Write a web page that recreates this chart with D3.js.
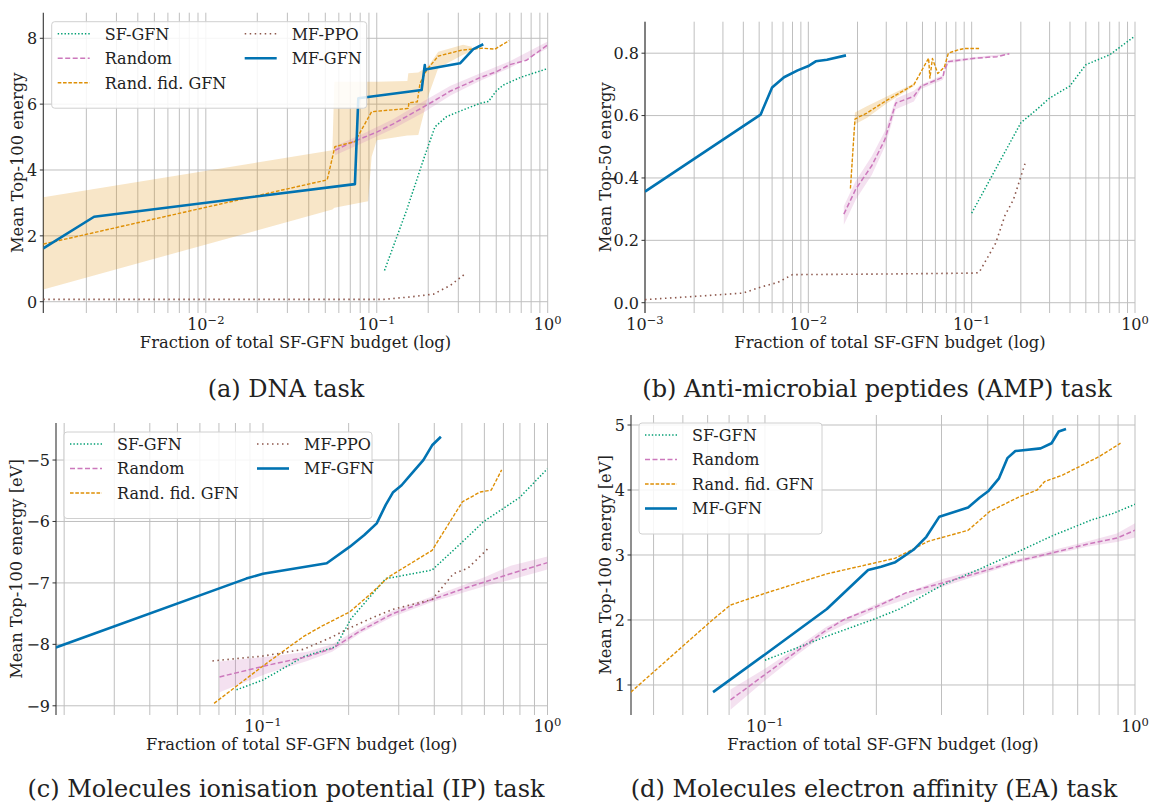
<!DOCTYPE html>
<html>
<head>
<meta charset="utf-8">
<script src="https://cdn.jsdelivr.net/npm/d3@7"></script>
<style>
  html, body { margin: 0; padding: 0; background: #fff; }
  svg text { font-family: "DejaVu Serif", serif; fill: #222; }
</style>
</head>
<body>
<script>
// series names + colours (seaborn colorblind-ish)
var seriesNames = ["SF-GFN", "Random", "Rand. fid. GFN", "MF-PPO", "MF-GFN"];
var seriesColors = ["#029e73", "#cc78bc", "#de8f05", "#8c564b", "#0173b2"];

// ---- (a) DNA task : [fraction, energy]
var dnaSF = [[0.111,0.95],[0.15,2.8],[0.19,4.4],[0.219,5.31],[0.256,5.62],[0.311,5.8],[0.4,6.02],[0.45,6.08],[0.5,6.4],[0.55,6.58],[0.7,6.82],[1.0,7.08]];
var dnaRandom = [[0.057,4.6],[0.07,4.82],[0.085,5.0],[0.1,5.15],[0.125,5.4],[0.15,5.63],[0.19,5.93],[0.23,6.18],[0.27,6.4],[0.33,6.6],[0.4,6.8],[0.5,6.98],[0.6,7.2],[0.75,7.33],[1.0,7.8]];
var dnaRandomBand = [[0.057,4.45,4.72],[0.085,4.85,5.12],[0.125,5.25,5.55],[0.19,5.76,6.1],[0.27,6.26,6.56],[0.4,6.7,6.93],[0.6,7.1,7.3],[1.0,7.7,7.9]];
var dnaRandFid = [[0.00112,1.75],[0.0513,3.70],[0.0569,4.71],[0.0745,4.86],[0.0933,5.77],[0.153,5.87],[0.154,6.04],[0.1726,6.07],[0.179,6.63],[0.196,7.04],[0.229,7.46],[0.314,7.64],[0.36,7.67],[0.415,7.70],[0.491,7.67],[0.595,7.93]];
var dnaRandFidBand = [[0.00112,0.37,3.17],[0.055,2.8,4.6],[0.0565,2.85,6.68],[0.089,3.05,6.68],[0.0933,4.4,6.68],[0.1,4.9,6.68],[0.151,5.05,6.7],[0.153,5.05,6.94],[0.175,5.06,6.96],[0.2,6.25,7.15],[0.229,7.1,7.59],[0.32,7.5,7.8],[0.36,7.6,7.74]];
var dnaPPO = [[0.00112,0.07],[0.11,0.07],[0.16,0.15],[0.215,0.23],[0.27,0.5],[0.335,0.88]];
var dnaMF = [[0.00112,1.62],[0.00222,2.58],[0.0745,3.57],[0.078,6.18],[0.183,6.43],[0.191,7.19],[0.192,7.02],[0.196,7.06],[0.307,7.24],[0.367,7.67],[0.42,7.82]];

// ---- (b) AMP task
var ampSF = [[0.1,0.287],[0.2,0.577],[0.251,0.62],[0.30,0.656],[0.398,0.694],[0.50,0.763],[0.70,0.795],[1.0,0.855]];
var ampRandom = [[0.0165,0.284],[0.0195,0.364],[0.0245,0.44],[0.0294,0.523],[0.0343,0.64],[0.0443,0.662],[0.049,0.694],[0.0667,0.723],[0.068,0.747],[0.072,0.773],[0.105,0.784],[0.143,0.789],[0.17,0.798]];
var ampRandomBand = [[0.0165,0.25,0.31],[0.0195,0.33,0.39],[0.0245,0.41,0.47],[0.0294,0.50,0.55],[0.0343,0.62,0.655],[0.0443,0.645,0.68],[0.049,0.685,0.70],[0.0667,0.715,0.73],[0.072,0.768,0.778],[0.17,0.796,0.80]];
var ampRandFid = [[0.0181,0.366],[0.0193,0.589],[0.0228,0.608],[0.03,0.648],[0.0443,0.699],[0.052,0.765],[0.0545,0.784],[0.0555,0.72],[0.0575,0.783],[0.062,0.735],[0.068,0.755],[0.072,0.80],[0.0817,0.81],[0.09,0.815],[0.111,0.815]];
var ampRandFidBand = [[0.0181,0.35,0.38],[0.0193,0.572,0.61],[0.0228,0.592,0.63],[0.03,0.638,0.66],[0.0443,0.695,0.703]];
var ampPPO = [[0.001,0.01],[0.002,0.02],[0.004,0.031],[0.0051,0.05],[0.0065,0.065],[0.008,0.09],[0.03,0.092],[0.105,0.095],[0.111,0.097],[0.14,0.19],[0.16,0.28],[0.18,0.33],[0.214,0.452]];
var ampMF = [[0.001,0.356],[0.0051,0.603],[0.006,0.69],[0.0071,0.723],[0.0086,0.745],[0.0101,0.76],[0.0111,0.774],[0.013,0.779],[0.017,0.793]];

// ---- (c) IP task
var ipSF = [[0.0807,-8.74],[0.1,-8.58],[0.139,-8.2],[0.18,-8.04],[0.204,-7.58],[0.27,-6.93],[0.294,-6.9],[0.393,-6.79],[0.495,-6.36],[0.597,-6.0],[0.798,-5.61],[1.0,-5.14]];
var ipRandom = [[0.0703,-8.53],[0.1038,-8.34],[0.143,-8.2],[0.175,-8.07],[0.22,-7.78],[0.286,-7.5],[0.393,-7.27],[0.51,-7.09],[0.606,-6.98],[0.742,-6.85],[1.0,-6.67]];
var ipRandomBand = [[0.0703,-8.78,-8.28],[0.1038,-8.47,-8.2],[0.143,-8.27,-8.12],[0.175,-8.12,-8.0],[0.22,-7.82,-7.73],[0.286,-7.55,-7.45],[0.393,-7.31,-7.22],[0.51,-7.15,-7.03],[0.606,-7.05,-6.9],[0.742,-6.95,-6.72],[1.0,-6.78,-6.57]];
var ipRandFid = [[0.0673,-8.96],[0.0994,-8.36],[0.139,-7.87],[0.16,-7.71],[0.202,-7.47],[0.24,-7.17],[0.277,-6.9],[0.393,-6.47],[0.502,-5.68],[0.58,-5.52],[0.634,-5.49],[0.69,-5.16]];
var ipPPO = [[0.0664,-8.27],[0.1,-8.19],[0.139,-8.08],[0.175,-7.88],[0.2,-7.74],[0.247,-7.55],[0.286,-7.43],[0.393,-7.27],[0.467,-6.85],[0.525,-6.76],[0.615,-6.45]];
var ipMF = [[0.0187,-8.05],[0.0873,-6.93],[0.1,-6.85],[0.1675,-6.68],[0.202,-6.41],[0.227,-6.22],[0.251,-6.03],[0.27,-5.73],[0.286,-5.53],[0.307,-5.41],[0.33,-5.24],[0.366,-5.0],[0.393,-4.76],[0.422,-4.62]];

// ---- (d) EA task
var eaSF = [[0.1,1.38],[0.147,1.75],[0.201,2.03],[0.231,2.17],[0.302,2.54],[0.379,2.78],[0.475,3.03],[0.595,3.29],[0.763,3.54],[0.873,3.64],[1.0,3.78]];
var eaRandom = [[0.0807,0.77],[0.1,1.16],[0.122,1.52],[0.147,1.85],[0.164,2.01],[0.201,2.21],[0.241,2.42],[0.302,2.57],[0.379,2.73],[0.475,2.9],[0.595,3.03],[0.746,3.17],[0.893,3.26],[1.0,3.38]];
var eaRandomBand = [[0.0807,0.62,0.93],[0.1,1.07,1.25],[0.122,1.46,1.58],[0.147,1.80,1.90],[0.201,2.17,2.25],[0.302,2.51,2.63],[0.475,2.87,2.93],[0.746,3.13,3.21],[0.893,3.2,3.33],[1.0,3.27,3.49]];
var eaRandFid = [[0.0434,0.89],[0.0721,2.0],[0.0807,2.23],[0.1,2.41],[0.147,2.71],[0.225,2.95],[0.276,3.21],[0.354,3.38],[0.405,3.67],[0.485,3.89],[0.544,4.0],[0.57,4.13],[0.637,4.23],[0.798,4.51],[0.914,4.72]];
var eaMF = [[0.0724,0.89],[0.1,1.47],[0.147,2.17],[0.19,2.77],[0.206,2.82],[0.225,2.89],[0.252,3.08],[0.273,3.28],[0.296,3.59],[0.354,3.73],[0.38,3.88],[0.401,3.98],[0.429,4.18],[0.452,4.49],[0.475,4.6],[0.556,4.64],[0.595,4.72],[0.622,4.9],[0.651,4.94]];

// axis ticks / labels
var dnaYTicks = [0, 2, 4, 6, 8];
var ampYTicks = [0, 0.2, 0.4, 0.6, 0.8];
var ipYTicks = [-9, -8, -7, -6, -5];
var eaYTicks = [1, 2, 3, 4, 5];
var xLabel = "Fraction of total SF-GFN budget (log)";
var yLabels = ["Mean Top-100 energy", "Mean Top-50 energy", "Mean Top-100 energy [eV]", "Mean Top-100 energy [eV]"];
var captions = ["(a) DNA task", "(b) Anti-microbial peptides (AMP) task", "(c) Molecules ionisation potential (IP) task", "(d) Molecules electron affinity (EA) task"];

var styles = {
  "SF-GFN":        {w: 1.5, dash: "1.4,2"},
  "Random":        {w: 1.5, dash: "5,2.5"},
  "Rand. fid. GFN":{w: 1.4, dash: "3.6,1.7"},
  "MF-PPO":        {w: 1.6, dash: "1.5,3.5"},
  "MF-GFN":        {w: 2.6, dash: null}
};
var color = d3.scaleOrdinal().domain(seriesNames).range(seriesColors);

var svg = d3.select("body").append("svg").attr("width", 1149).attr("height", 803);

var panels = [
  {id: "a", box: {l: 43.3, r: 547.7, t: 12.7, b: 313}, xd: [0.00112, 1], yd: [-0.343, 8.777], yt: dnaYTicks, yf: d3.format("d"),
   ylabX: 17, xlabY: 348, capX: 286, capY: 397, ylab: yLabels[0], cap: captions[0],
   series: {"SF-GFN": dnaSF, "Random": dnaRandom, "Rand. fid. GFN": dnaRandFid, "MF-PPO": dnaPPO, "MF-GFN": dnaMF},
   bands: [["Rand. fid. GFN", dnaRandFidBand], ["Random", dnaRandomBand]],
   legend: {x: 51.7, y: 21.7, w: 315, cols: [["SF-GFN", "Random", "Rand. fid. GFN"], ["MF-PPO", "MF-GFN"]]}},
  {id: "b", box: {l: 645, r: 1135, t: 21.7, b: 313}, xd: [0.001, 1], yd: [-0.033, 0.901], yt: ampYTicks, yf: d3.format(".1f"),
   ylabX: 605, xlabY: 348, capX: 877, capY: 397, ylab: yLabels[1], cap: captions[1],
   series: {"SF-GFN": ampSF, "Random": ampRandom, "Rand. fid. GFN": ampRandFid, "MF-PPO": ampPPO, "MF-GFN": ampMF},
   bands: [["Rand. fid. GFN", ampRandFidBand], ["Random", ampRandomBand]],
   legend: null},
  {id: "c", box: {l: 56, r: 547.5, t: 423, b: 715}, xd: [0.01872, 1], yd: [-9.15, -4.397], yt: ipYTicks, yf: function(v) { return String(v).replace("-", "\u2212"); },
   ylabX: 16, xlabY: 750, capX: 286, capY: 797, ylab: yLabels[2], cap: captions[2],
   series: {"SF-GFN": ipSF, "Random": ipRandom, "Rand. fid. GFN": ipRandFid, "MF-PPO": ipPPO, "MF-GFN": ipMF},
   bands: [["Random", ipRandomBand]],
   legend: {x: 64, y: 432, w: 308, cols: [["SF-GFN", "Random", "Rand. fid. GFN"], ["MF-PPO", "MF-GFN"]]}},
  {id: "d", box: {l: 631, r: 1135, t: 415, b: 715}, xd: [0.04345, 1], yd: [0.538, 5.154], yt: eaYTicks, yf: d3.format("d"),
   ylabX: 605, xlabY: 750, capX: 874, capY: 797, ylab: yLabels[3], cap: captions[3],
   series: {"SF-GFN": eaSF, "Random": eaRandom, "Rand. fid. GFN": eaRandFid, "MF-GFN": eaMF},
   bands: [["Random", eaRandomBand]],
   legend: {x: 639, y: 423, w: 183, cols: [["SF-GFN", "Random", "Rand. fid. GFN", "MF-GFN"]]}}
];

panels.forEach(function(p) {
  var b = p.box;
  var x = d3.scaleLog().domain(p.xd).range([b.l, b.r]);
  var y = d3.scaleLinear().domain(p.yd).range([b.b, b.t]);
  var g = svg.append("g");

  g.append("clipPath").attr("id", "clip-" + p.id)
    .append("rect").attr("x", b.l).attr("y", b.t).attr("width", b.r - b.l).attr("height", b.b - b.t);

  // grid: x major + minor, y major
  var lo = Math.floor(Math.log10(p.xd[0])), hi = Math.ceil(Math.log10(p.xd[1]));
  var xGrid = [], xMajor = [];
  for (var e = lo; e <= hi; e++) {
    for (var m = 1; m < 10; m++) {
      var v = m * Math.pow(10, e);
      if (v >= p.xd[0] * 0.9999 && v <= p.xd[1] * 1.0001) {
        xGrid.push(v);
        if (m == 1) xMajor.push(e);
      }
    }
  }
  g.selectAll(".xg").data(xGrid).enter().append("line")
    .attr("x1", d => x(d)).attr("x2", d => x(d)).attr("y1", b.t).attr("y2", b.b)
    .attr("stroke", "#bfbfbf").attr("stroke-width", 1);
  g.selectAll(".yg").data(p.yt).enter().append("line")
    .attr("x1", b.l).attr("x2", b.r).attr("y1", d => y(d)).attr("y2", d => y(d))
    .attr("stroke", "#bfbfbf").attr("stroke-width", 1);

  // spine + ticks
  g.append("line").attr("x1", b.l).attr("x2", b.l).attr("y1", b.t).attr("y2", b.b)
    .attr("stroke", "#333").attr("stroke-width", 1.1);
  g.selectAll(".yt").data(p.yt).enter().append("line")
    .attr("x1", b.l - 3.5).attr("x2", b.l).attr("y1", d => y(d)).attr("y2", d => y(d))
    .attr("stroke", "#333").attr("stroke-width", 1);
  g.selectAll(".ytl").data(p.yt).enter().append("text")
    .attr("x", b.l - 6).attr("y", d => y(d) + 5.8).attr("text-anchor", "end")
    .attr("font-size", 16).text(p.yf);

  var xt = g.selectAll(".xtl").data(xMajor).enter().append("text")
    .attr("x", d => x(Math.pow(10, d))).attr("y", b.b + 17).attr("text-anchor", "middle")
    .attr("font-size", 16);
  xt.append("tspan").text("10");
  xt.append("tspan").attr("dy", -6.5).attr("font-size", 11.5)
    .text(d => String(d).replace("-", "\u2212"));

  // labels
  g.append("text").attr("x", (b.l + b.r) / 2).attr("y", p.xlabY).attr("text-anchor", "middle")
    .attr("font-size", 16.3).text(xLabel);
  g.append("text").attr("transform", "translate(" + p.ylabX + "," + ((b.t + b.b) / 2) + ") rotate(-90)")
    .attr("text-anchor", "middle").attr("dy", 5.5).attr("font-size", 16.3).text(p.ylab);
  g.append("text").attr("x", p.capX).attr("y", p.capY).attr("text-anchor", "middle")
    .attr("font-size", 24).text(p.cap);

  // bands then lines
  var plot = g.append("g").attr("clip-path", "url(#clip-" + p.id + ")");
  var area = d3.area().x(d => x(d[0])).y0(d => y(d[1])).y1(d => y(d[2]));
  p.bands.forEach(function(bd) {
    plot.append("path").attr("d", area(bd[1])).attr("fill", color(bd[0])).attr("fill-opacity", 0.22);
  });
  var line = d3.line().x(d => x(d[0])).y(d => y(d[1]));
  seriesNames.forEach(function(name) {
    var data = p.series[name];
    if (!data) return;
    var st = styles[name];
    plot.append("path").attr("d", line(data)).attr("fill", "none")
      .attr("stroke", color(name)).attr("stroke-width", st.w)
      .attr("stroke-dasharray", st.dash).attr("stroke-linejoin", "round");
  });

  // legend
  if (p.legend) {
    var L = p.legend;
    var rows = d3.max(L.cols, c => c.length);
    var lg = g.append("g");
    lg.append("rect").attr("x", L.x).attr("y", L.y).attr("width", L.w).attr("height", 13 + rows * 24.5)
      .attr("rx", 3).attr("fill", "#fff").attr("fill-opacity", 0.85)
      .attr("stroke", "#d0d0d0").attr("stroke-width", 1);
    L.cols.forEach(function(col, ci) {
      col.forEach(function(name, ri) {
        var st = styles[name];
        var cx = L.x + 6 + ci * 187;
        var cy = L.y + 12 + ri * 24.5;
        lg.append("line").attr("x1", cx).attr("x2", cx + 32).attr("y1", cy).attr("y2", cy)
          .attr("stroke", color(name)).attr("stroke-width", st.w).attr("stroke-dasharray", st.dash);
        lg.append("text").attr("x", cx + 47).attr("y", cy + 5.8).attr("font-size", 16).text(name);
      });
    });
  }
});
</script>
</body>
</html>
